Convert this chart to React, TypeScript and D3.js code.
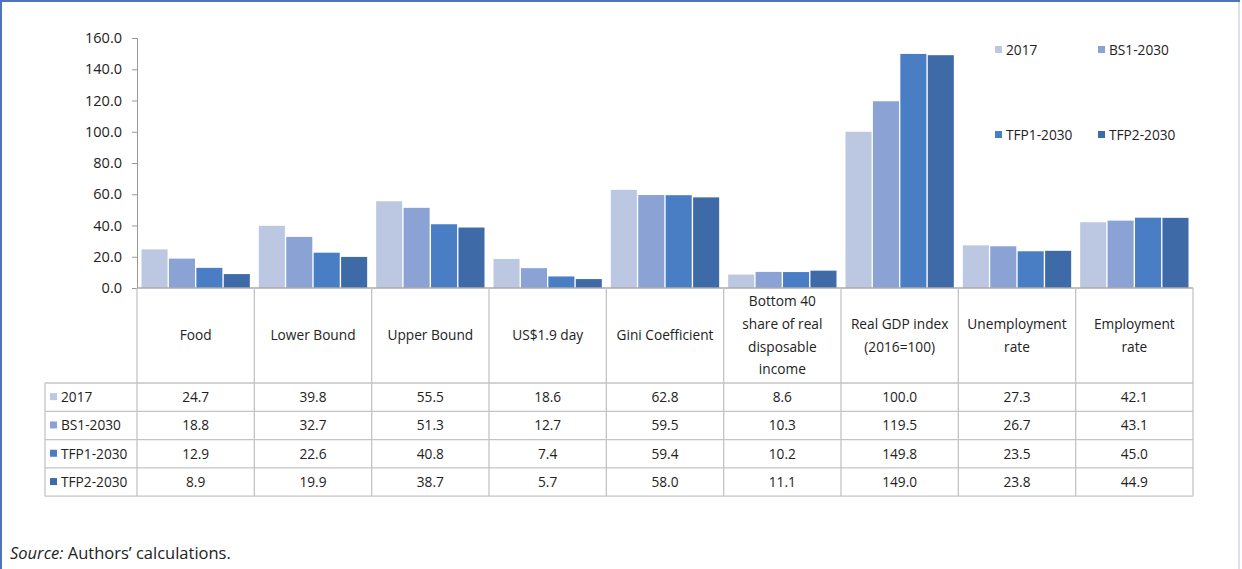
import React, { useRef, useEffect } from "react";
import * as d3 from "d3";

const categories: string[][] = [
  ["Food"],
  ["Lower Bound"],
  ["Upper Bound"],
  ["US$1.9 day"],
  ["Gini Coefficient"],
  ["Bottom 40", "share of real", "disposable", "income"],
  ["Real GDP index", "(2016=100)"],
  ["Unemployment", "rate"],
  ["Employment", "rate"],
];

const seriesNames = ["2017", "BS1-2030", "TFP1-2030", "TFP2-2030"];
const seriesColors = ["#bcc7e2", "#8aa2d4", "#4a7ec4", "#3e6aa8"];

const v2017 = [24.7, 39.8, 55.5, 18.6, 62.8, 8.6, 100.0, 27.3, 42.1];
const vBS1 = [18.8, 32.7, 51.3, 12.7, 59.5, 10.3, 119.5, 26.7, 43.1];
const vTFP1 = [12.9, 22.6, 40.8, 7.4, 59.4, 10.2, 149.8, 23.5, 45.0];
const vTFP2 = [8.9, 19.9, 38.7, 5.7, 58.0, 11.1, 149.0, 23.8, 44.9];

const yTicks = [0, 20, 40, 60, 80, 100, 120, 140, 160];

const FONT = "'Open Sans', sans-serif";
const FS = 13.7;
const W = 1242;
const H = 569;

const App: React.FC = () => {
  const svgRef = useRef<SVGSVGElement | null>(null);

  useEffect(() => {
    if (!svgRef.current) return;
    const svg = d3.select(svgRef.current);
    svg.selectAll("*").remove();

    const series = [v2017, vBS1, vTFP1, vTFP2];
    const left = 137;
    const right = 1193;
    const tableLeft = 45;
    const headerBottom = 383;
    const rowH = 28.3;
    const tableBottom = headerBottom + rowH * 4;
    const gridColor = "#c4c4c4";

    // frame
    svg
      .append("rect")
      .attr("x", 1)
      .attr("y", 1)
      .attr("width", W - 4)
      .attr("height", H + 4)
      .attr("fill", "none")
      .attr("stroke", "#4f74b8")
      .attr("stroke-width", 2);
    svg
      .append("line")
      .attr("x1", W - 3)
      .attr("x2", W - 3)
      .attr("y1", 2)
      .attr("y2", H)
      .attr("stroke", "#d4e2f2")
      .attr("stroke-width", 2);

    const x = d3
      .scaleBand<number>()
      .domain(d3.range(categories.length))
      .range([left, right])
      .paddingInner(0)
      .paddingOuter(0);

    const xInner = d3
      .scaleBand<number>()
      .domain(d3.range(seriesNames.length))
      .range([4.5, x.bandwidth() - 4.5])
      .paddingInner(0.05);

    const y = d3.scaleLinear().domain([0, 160]).range([288, 38]);

    // bars
    series.forEach((vals, si) => {
      svg
        .append("g")
        .selectAll("rect")
        .data(vals)
        .enter()
        .append("rect")
        .attr("x", (d, i) => (x(i) as number) + (xInner(si) as number))
        .attr("y", (d) => y(d))
        .attr("width", xInner.bandwidth())
        .attr("height", (d) => y(0) - y(d))
        .attr("fill", seriesColors[si]);
    });

    // y axis
    const yAxis = d3
      .axisLeft(y)
      .tickValues(yTicks)
      .tickFormat((d) => d3.format(".1f")(d as number))
      .tickSize(5)
      .tickPadding(10);
    const ga = svg
      .append("g")
      .attr("transform", `translate(${left},0)`)
      .call(yAxis);
    ga.select(".domain").attr("stroke", "#999");
    ga.selectAll(".tick line").attr("stroke", "#999");
    ga.selectAll(".tick text")
      .attr("font-family", FONT)
      .attr("font-size", 14.5)
      .attr("fill", "#222");

    // table grid
    const g = svg.append("g").attr("stroke", gridColor).attr("stroke-width", 1.3);
    g.append("line")
      .attr("x1", left)
      .attr("x2", right)
      .attr("y1", y(0))
      .attr("y2", y(0))
      .attr("stroke", "#aaa");
    d3.range(5).forEach((r) => {
      const yy = headerBottom + r * rowH;
      g.append("line")
        .attr("x1", tableLeft)
        .attr("x2", right)
        .attr("y1", yy)
        .attr("y2", yy);
    });
    d3.range(categories.length + 1).forEach((i) => {
      const xx = i < categories.length ? (x(i) as number) : right;
      g.append("line")
        .attr("x1", xx)
        .attr("x2", xx)
        .attr("y1", y(0))
        .attr("y2", tableBottom);
    });
    g.append("line")
      .attr("x1", tableLeft)
      .attr("x2", tableLeft)
      .attr("y1", headerBottom)
      .attr("y2", tableBottom);

    // header labels
    const lineH = 22.7;
    categories.forEach((lines, i) => {
      const cx = (x(i) as number) + x.bandwidth() / 2;
      const cy = (y(0) + headerBottom) / 2;
      const t = svg
        .append("text")
        .attr("text-anchor", "middle")
        .attr("font-family", FONT)
        .attr("font-size", FS)
        .attr("fill", "#222");
      lines.forEach((ln, li) => {
        t.append("tspan")
          .attr("x", cx)
          .attr("y", cy + (li - (lines.length - 1) / 2) * lineH)
          .attr("dy", "0.35em")
          .text(ln);
      });
    });

    // data rows
    series.forEach((vals, si) => {
      const cy = headerBottom + si * rowH + rowH / 2;
      svg
        .append("rect")
        .attr("x", 50)
        .attr("y", cy - 4)
        .attr("width", 7)
        .attr("height", 7)
        .attr("fill", seriesColors[si]);
      svg
        .append("text")
        .attr("x", 61)
        .attr("y", cy)
        .attr("dy", "0.35em")
        .attr("font-family", FONT)
        .attr("font-size", FS)
        .attr("fill", "#222")
        .text(seriesNames[si]);
      vals.forEach((v, i) => {
        svg
          .append("text")
          .attr("x", (x(i) as number) + x.bandwidth() / 2)
          .attr("y", cy)
          .attr("dy", "0.35em")
          .attr("text-anchor", "middle")
          .attr("font-family", FONT)
          .attr("font-size", FS)
          .attr("fill", "#222")
          .text(d3.format(".1f")(v));
      });
    });

    // legend
    const legendPos = [
      [995, 50],
      [1098, 50],
      [995, 135],
      [1098, 135],
    ];
    seriesNames.forEach((name, si) => {
      const [lx, ly] = legendPos[si];
      svg
        .append("rect")
        .attr("x", lx)
        .attr("y", ly - 4)
        .attr("width", 7)
        .attr("height", 7)
        .attr("fill", seriesColors[si]);
      svg
        .append("text")
        .attr("x", lx + 11)
        .attr("y", ly)
        .attr("dy", "0.35em")
        .attr("font-family", FONT)
        .attr("font-size", FS)
        .attr("fill", "#222")
        .text(name);
    });

    // source
    const src = svg
      .append("text")
      .attr("x", 10)
      .attr("y", 559)
      .attr("font-family", FONT)
      .attr("font-size", 16.5)
      .attr("fill", "#222");
    src.append("tspan").attr("font-style", "italic").text("Source:");
    src.append("tspan").text(" Authors\u2019 calculations.");
  }, []);

  return (
    <div style={{ position: "fixed", left: 0, top: 0, width: W, height: H, background: "#fff" }}>
      <svg ref={svgRef} width={W} height={H}></svg>
    </div>
  );
};

export default App;
